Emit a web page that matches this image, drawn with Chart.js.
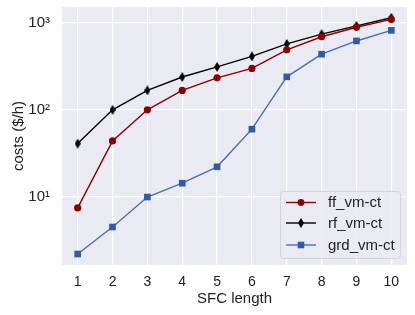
<!DOCTYPE html>
<html><head><meta charset="utf-8">
<script src="https://cdn.jsdelivr.net/npm/chart.js@4/dist/chart.umd.min.js"></script>
<style>html,body{margin:0;padding:0;background:#fff}#wrap{width:415px;height:315px}</style>
</head><body><div id="wrap"><canvas id="c" width="415" height="315"></canvas></div>
<script>
const sfcLength = [1,2,3,4,5,6,7,8,9,10];
const ffVmCt  = [7.5, 44, 100, 167, 233, 299, 488, 690, 885, 1090];
const rfVmCt  = [41, 100, 167, 238, 311, 410, 571, 738, 918, 1140];
const grdVmCt = [2.22, 4.53, 10, 14.4, 22.2, 60, 239, 435, 617, 816];
const yTicks = [10, 100, 1000];
const yTickLabels = ['10\u00B9', '10\u00B2', '10\u00B3'];
const seriesNames = ['ff_vm-ct', 'rf_vm-ct', 'grd_vm-ct'];

const FONT = "'Liberation Sans', Arial, sans-serif";

function thinDiamond(w, h, color) {
  const c = document.createElement('canvas');
  c.width = w; c.height = h;
  const g = c.getContext('2d');
  g.fillStyle = color;
  g.beginPath();
  g.moveTo(w/2, 0); g.lineTo(w, h/2); g.lineTo(w/2, h); g.lineTo(0, h/2);
  g.closePath(); g.fill();
  return c;
}
const diamondImg = thinDiamond(6, 10, '#000');

const toPts = arr => sfcLength.map((x, i) => ({x: x, y: arr[i]}));

const styles = [
  {line:'#8B0000', fill:'#8B0000', style:'circle', r:3.6},
  {line:'#000000', fill:'#000000', style:diamondImg, r:5},
  {line:'#4A6FB0', fill:'#2D5DA7', style:'rect', r:4.7}
];
const dataArrs = [ffVmCt, rfVmCt, grdVmCt];

const bgPlugin = {
  id: 'bg',
  beforeDraw(chart) {
    const {ctx, chartArea: a} = chart;
    ctx.save();
    ctx.fillStyle = '#EAEAF2';
    ctx.fillRect(a.left, a.top, a.right - a.left, a.bottom - a.top);
    ctx.restore();
  }
};

const legendPlugin = {
  id: 'inLegend',
  afterDraw(chart) {
    const ctx = chart.ctx;
    const x0 = 280, y0 = 191, w = 120, h = 67;
    ctx.save();
    ctx.fillStyle = 'rgba(234,234,242,0.85)';
    ctx.strokeStyle = '#D4D4DC';
    ctx.lineWidth = 1;
    ctx.beginPath();
    if (ctx.roundRect) ctx.roundRect(x0 + 0.5, y0 + 0.5, w, h, 3); else ctx.rect(x0 + 0.5, y0 + 0.5, w, h);
    ctx.fill(); ctx.stroke();
    const rows = [202.5, 223, 245];
    ctx.font = '15px ' + FONT;
    ctx.textBaseline = 'middle';
    seriesNames.forEach((name, i) => {
      const s = styles[i];
      const y = rows[i];
      ctx.strokeStyle = s.line; ctx.lineWidth = 1.4;
      ctx.beginPath(); ctx.moveTo(286, y); ctx.lineTo(316, y); ctx.stroke();
      ctx.fillStyle = s.fill;
      if (i === 0) { ctx.beginPath(); ctx.arc(301, y, 3.4, 0, Math.PI*2); ctx.fill(); }
      else if (i === 1) { ctx.drawImage(diamondImg, 298, y - 5); }
      else { ctx.fillRect(297.7, y - 3.3, 6.6, 6.6); }
      ctx.fillStyle = '#222';
      ctx.fillText(name, 328, y + 0.5);
    });
    ctx.restore();
  }
};

new Chart(document.getElementById('c'), {
  type: 'line',
  data: {
    datasets: seriesNames.map((name, i) => ({
      label: name,
      data: toPts(dataArrs[i]),
      borderColor: styles[i].line,
      backgroundColor: styles[i].fill,
      pointBackgroundColor: styles[i].fill,
      pointBorderColor: styles[i].fill,
      pointBorderWidth: 0,
      borderWidth: 1.4,
      pointStyle: styles[i].style,
      pointRadius: styles[i].r,
      tension: 0,
      fill: false
    }))
  },
  options: {
    responsive: false,
    animation: false,
    devicePixelRatio: 1,
    layout: {padding: {top: 7, right: 8, left: 10, bottom: 7}},
    plugins: {legend: {display: false}, tooltip: {enabled: false}},
    scales: {
      x: {
        type: 'linear',
        min: 0.55, max: 10.45,
        afterBuildTicks(scale) { scale.ticks = sfcLength.map(v => ({value: v})); },
        afterFit(scale) { scale.height = 43; scale.paddingLeft = 0; scale.paddingRight = 0; },
        grid: {color: '#FFFFFF', lineWidth: 1.2, drawTicks: false},
        border: {display: false},
        ticks: {color: '#222', font: {family: FONT, size: 14}, padding: 9, maxRotation: 0,
                callback: v => String(v)},
        title: {display: true, text: 'SFC length', color: '#222', font: {family: FONT, size: 15}, padding: {top: 1, bottom: 0}}
      },
      y: {
        type: 'logarithmic',
        min: 1.66, max: 1513,
        afterBuildTicks(scale) { scale.ticks = yTicks.map(v => ({value: v})); },
        afterFit(scale) { scale.width = 52; scale.paddingTop = 0; scale.paddingBottom = 0; },
        grid: {color: '#FFFFFF', lineWidth: 1.2, drawTicks: false},
        border: {display: false},
        ticks: {color: '#222', font: {family: FONT, size: 15}, padding: 12,
                callback: (v) => { const k = yTicks.indexOf(v); return k >= 0 ? yTickLabels[k] : ''; }},
        title: {display: true, text: 'costs ($/h)', color: '#222', font: {family: FONT, size: 15}, padding: {top: 0, bottom: 4}}
      }
    }
  },
  plugins: [bgPlugin, legendPlugin]
});
</script>
</body></html>
